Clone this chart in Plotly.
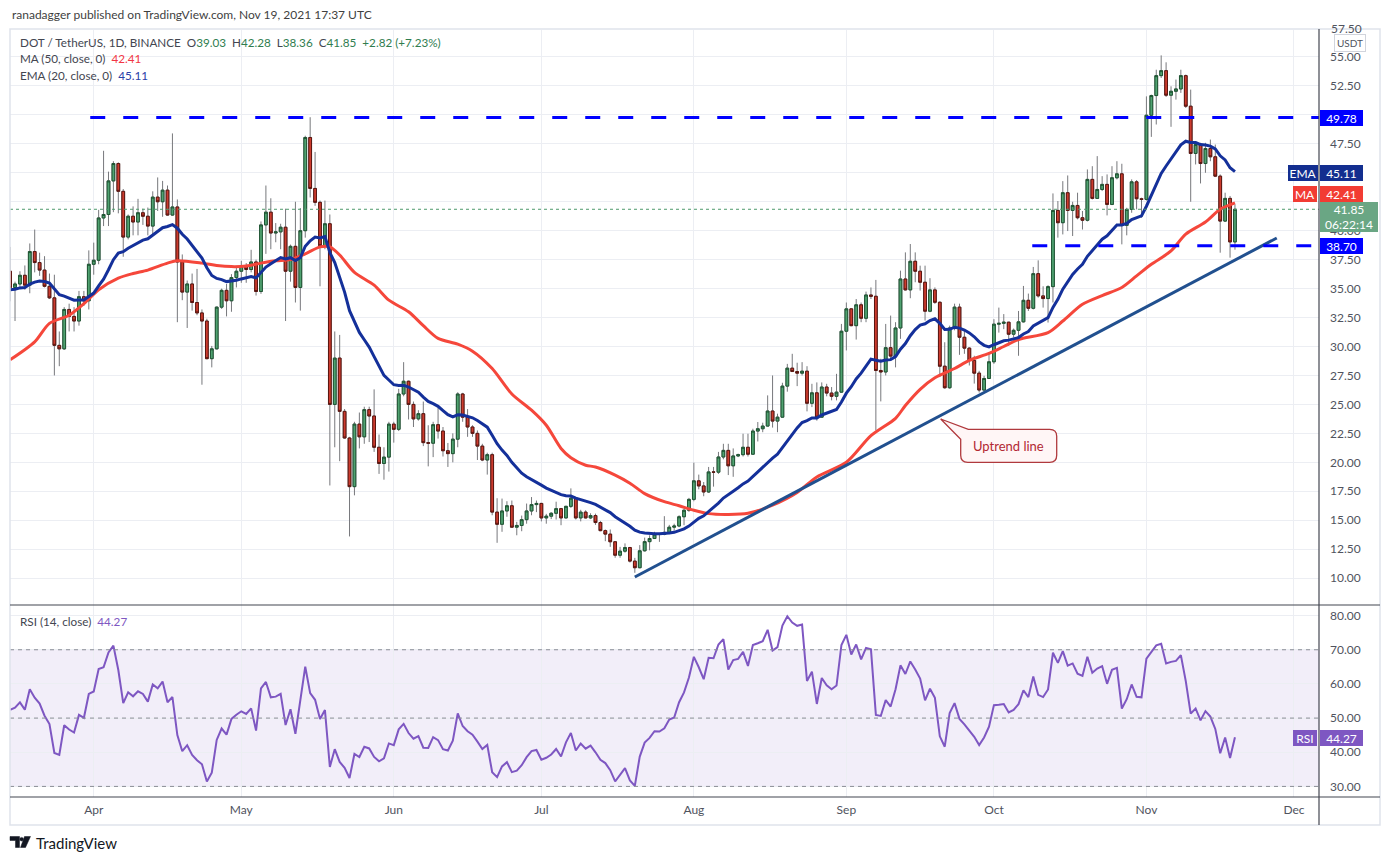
import numpy as np
import pandas as pd
import plotly.graph_objects as go
from plotly.subplots import make_subplots

# DOT/USDT daily candles, 2021-03-15 .. 2021-11-19
dates = pd.date_range("2021-03-15", periods=250, freq="D")

opens = [36.5, 35.1, 35.4, 36.15, 35.3, 38.2, 37.25, 36.6, 35.2, 34.2,
         30.1, 29.8, 33.2, 32.6, 32.2, 34.3, 33.95, 37.1, 37.45, 41.1,
         41.4, 44.3, 45.8, 43.4, 39.45, 41.25, 40.75, 41.55, 41.25, 40.4,
         42.9, 42.5, 43.5, 41.35, 42.05, 37.3, 34.7, 35.4, 33.8, 32.9,
         32.2, 28.95, 29.8, 33.4, 34.85, 33.95, 35.95, 36.5, 36.95, 36.65,
         37.3, 34.75, 40.5, 41.6, 39.8, 39.9, 40.3, 36.5, 38.65, 35.1,
         40.0, 48.05, 43.65, 42.45, 38.7, 40.6, 25.0, 29.0, 24.4, 22.1,
         17.9, 23.3, 22.2, 24.55, 24.0, 21.3, 19.9, 20.45, 23.3, 22.85,
         25.9, 27.0, 25.0, 23.75, 24.2, 21.7, 21.65, 23.25, 22.7, 21.0,
         20.75, 22.0, 25.9, 23.9, 23.05, 22.5, 21.4, 20.2, 20.66, 15.7,
         14.65, 15.8, 16.25, 14.4, 14.55, 15.05, 15.8, 16.35, 16.45, 15.2,
         15.35, 15.6, 16.0, 15.2, 16.2, 16.9, 15.2, 15.7, 15.2, 15.4,
         14.8, 14.1, 13.8, 13.14, 11.98, 12.33, 12.64, 11.47, 10.9, 12.36,
         13.15, 13.42, 13.8, 13.78, 13.95, 14.4, 14.5, 15.3, 15.86, 16.8,
         18.4, 17.96, 17.44, 19.17, 19.15, 20.46, 21.03, 19.7, 20.55, 20.66,
         21.3, 20.7, 22.7, 22.9, 23.13, 24.43, 23.56, 23.9, 26.58, 28.13,
         27.84, 27.7, 27.87, 25.1, 26.0, 23.9, 26.5, 25.98, 25.7, 26.06,
         31.32, 33.25, 31.8, 33.6, 32.44, 34.45, 34.34, 27.93, 27.8, 29.9,
         29.17, 31.6, 35.83, 34.89, 37.36, 36.5, 35.55, 33.05, 34.89, 33.82,
         28.3, 26.44, 31.6, 33.4, 30.8, 29.86, 28.8, 27.7, 26.24, 27.24,
         28.68, 31.93, 32.0, 32.1, 31.06, 31.4, 32.13, 33.99, 33.3, 36.29,
         34.37, 34.14, 35.17, 41.75, 40.69, 43.28, 41.75, 42.18, 41.12, 40.9,
         44.43, 42.79, 43.56, 44.0, 42.27, 44.57, 44.91, 40.46, 41.84, 44.22,
         42.76, 42.7, 49.97, 51.67, 53.39, 53.82, 51.7, 52.04, 52.24, 53.39,
         50.75, 46.67, 47.44, 45.8, 47.1, 46.38, 44.71, 40.83, 42.79, 39.03]

highs = [38.6, 35.6, 36.5, 37.0, 38.9, 40.1, 38.1, 37.8, 36.3, 36.2,
         31.3, 33.4, 33.7, 33.4, 34.8, 34.8, 38.3, 38.97, 41.8, 46.9,
         45.1, 46.0, 45.9, 43.6, 41.4, 42.1, 42.75, 41.9, 42.0, 43.4,
         44.6, 44.3, 43.9, 48.4, 42.7, 37.95, 35.7, 36.3, 36.7, 33.2,
         32.4, 30.05, 33.45, 35.0, 35.4, 36.25, 36.8, 37.4, 37.2, 38.35,
         37.5, 40.8, 43.9, 42.8, 40.66, 40.6, 41.9, 38.8, 42.5, 41.95,
         48.2, 49.8, 46.8, 42.6, 42.6, 41.4, 31.3, 31.0, 24.6, 22.2,
         23.5, 24.3, 24.8, 24.8, 26.3, 22.4, 21.3, 23.5, 23.5, 26.35,
         28.65, 27.06, 25.25, 24.5, 25.25, 23.2, 23.5, 24.7, 23.05, 21.67,
         22.5, 26.05, 26.0, 24.6, 23.2, 22.75, 21.6, 20.83, 20.83, 16.9,
         16.87, 16.64, 16.7, 14.86, 15.4, 16.44, 17.0, 16.7, 16.5, 15.55,
         15.7, 16.6, 16.06, 16.25, 17.75, 16.94, 15.9, 15.86, 15.6, 15.57,
         14.94, 14.2, 14.2, 13.2, 12.7, 13.0, 12.7, 11.75, 12.85, 13.5,
         13.7, 14.0, 13.85, 15.35, 14.6, 14.7, 15.43, 16.0, 16.93, 19.97,
         18.94, 18.3, 19.6, 19.6, 20.9, 21.6, 21.6, 21.2, 20.75, 22.47,
         22.47, 22.9, 23.48, 23.42, 25.78, 27.5, 24.2, 26.87, 28.5, 29.37,
         28.6, 28.65, 28.3, 26.78, 26.9, 26.9, 26.78, 26.5, 27.64, 31.95,
         33.8, 33.3, 34.1, 33.8, 34.74, 35.1, 35.75, 28.94, 31.95, 32.67,
         32.1, 36.55, 38.13, 38.85, 38.13, 36.98, 36.98, 35.9, 35.1, 33.9,
         30.37, 31.8, 33.7, 33.7, 31.5, 29.94, 29.2, 27.9, 27.47, 29.48,
         32.36, 33.36, 32.8, 32.13, 31.55, 33.07, 35.23, 34.57, 36.87, 37.44,
         35.2, 35.29, 43.22, 42.56, 44.28, 44.77, 42.5, 43.28, 41.7, 45.29,
         45.57, 46.44, 44.71, 44.86, 45.57, 46.0, 45.78, 41.98, 44.43, 44.37,
         42.85, 51.6, 51.75, 53.9, 55.14, 54.54, 52.47, 53.05, 53.9, 53.48,
         52.18, 47.73, 47.59, 47.59, 47.87, 47.44, 44.86, 43.28, 43.0, 42.28]

lows = [33.9, 32.2, 35.1, 34.9, 34.6, 36.4, 36.1, 35.1, 34.1, 27.5,
        28.3, 29.7, 31.3, 31.3, 31.8, 33.5, 33.2, 36.2, 37.1, 40.4,
        40.4, 41.6, 41.5, 37.75, 39.25, 39.6, 39.6, 40.5, 39.6, 39.6,
        41.7, 41.2, 41.3, 41.3, 32.1, 34.0, 31.6, 33.1, 32.7, 26.7,
        28.9, 28.2, 29.75, 33.25, 32.6, 33.0, 35.1, 35.5, 35.5, 36.4,
        34.4, 34.55, 38.0, 38.4, 39.0, 38.4, 32.2, 35.6, 33.8, 33.1,
        39.4, 42.87, 42.15, 35.2, 38.4, 18.0, 21.3, 20.1, 22.05, 13.6,
        17.15, 21.2, 21.6, 21.75, 20.9, 19.0, 18.5, 19.2, 21.7, 22.7,
        25.7, 23.7, 23.05, 23.6, 21.4, 19.65, 20.45, 22.05, 20.5, 19.6,
        20.0, 21.3, 23.5, 22.2, 22.2, 20.2, 20.1, 18.94, 15.43, 13.05,
        14.0, 15.3, 14.35, 13.7, 14.05, 14.7, 15.43, 15.7, 14.9, 14.7,
        15.1, 15.06, 14.57, 15.15, 16.06, 15.06, 14.9, 15.15, 15.1, 14.6,
        14.05, 13.19, 12.7, 11.76, 11.76, 12.2, 11.35, 10.46, 10.85, 12.3,
        12.4, 13.4, 13.13, 13.7, 13.8, 14.1, 14.4, 14.57, 15.72, 16.64,
        17.67, 17.07, 17.36, 17.9, 19.0, 20.26, 18.9, 18.75, 20.45, 20.5,
        20.5, 20.66, 21.8, 22.6, 23.1, 23.0, 22.6, 23.85, 26.1, 27.8,
        26.58, 27.5, 24.4, 24.77, 23.6, 23.85, 25.7, 25.35, 25.35, 26.0,
        29.66, 31.75, 30.6, 32.1, 32.1, 34.1, 22.76, 25.26, 27.5, 28.94,
        28.2, 30.66, 34.83, 34.17, 35.55, 34.83, 32.24, 32.96, 33.68, 27.36,
        26.35, 26.35, 31.4, 29.28, 29.37, 28.36, 26.8, 26.03, 26.1, 27.2,
        28.5, 31.2, 31.5, 30.05, 30.78, 29.2, 32.07, 33.07, 33.2, 34.22,
        33.36, 32.07, 33.8, 39.4, 39.68, 39.97, 39.54, 40.98, 40.1, 40.8,
        42.7, 42.75, 43.42, 41.32, 42.21, 44.43, 38.82, 39.6, 41.55, 41.84,
        41.12, 42.6, 48.1, 49.17, 53.19, 51.55, 48.97, 51.32, 51.9, 50.6,
        42.5, 45.72, 44.08, 45.0, 46.0, 44.63, 38.1, 40.75, 37.67, 38.36]

closes = [35.1, 35.4, 36.15, 35.3, 38.2, 37.25, 36.6, 35.2, 34.2, 30.1,
          29.8, 33.2, 32.6, 32.2, 34.3, 33.95, 37.1, 37.45, 41.1, 41.4,
          44.3, 45.8, 43.4, 39.45, 41.25, 40.75, 41.55, 41.25, 40.4, 42.9,
          42.5, 43.5, 41.35, 42.05, 37.3, 34.7, 35.4, 33.8, 32.9, 32.2,
          28.95, 29.8, 33.4, 34.85, 33.95, 35.95, 36.5, 36.95, 36.65, 37.3,
          34.75, 40.5, 41.6, 39.8, 39.9, 40.3, 36.5, 38.65, 35.1, 40.0,
          48.05, 43.65, 42.45, 38.7, 40.6, 25.0, 29.0, 24.4, 22.1, 17.9,
          23.3, 22.2, 24.55, 24.0, 21.3, 19.9, 20.45, 23.3, 22.85, 25.9,
          27.0, 25.0, 23.75, 24.2, 21.7, 21.65, 23.25, 22.7, 21.0, 20.75,
          22.0, 25.9, 23.9, 23.05, 22.5, 21.4, 20.2, 20.66, 15.7, 14.65,
          15.8, 16.25, 14.4, 14.55, 15.05, 15.8, 16.35, 16.45, 15.2, 15.35,
          15.6, 16.0, 15.2, 16.2, 16.9, 15.2, 15.7, 15.2, 15.4, 14.8,
          14.1, 13.8, 13.14, 11.98, 12.33, 12.64, 11.47, 10.9, 12.36, 13.15,
          13.42, 13.8, 13.78, 13.95, 14.4, 14.5, 15.3, 15.86, 16.8, 18.4,
          17.96, 17.44, 19.17, 19.15, 20.46, 21.03, 19.7, 20.55, 20.66, 21.3,
          20.7, 22.7, 22.9, 23.13, 24.43, 23.56, 23.9, 26.58, 28.13, 27.84,
          27.7, 27.87, 25.1, 26.0, 23.9, 26.5, 25.98, 25.7, 26.06, 31.32,
          33.25, 31.8, 33.6, 32.44, 34.45, 34.34, 27.93, 27.8, 29.9, 29.17,
          31.6, 35.83, 34.89, 37.36, 36.5, 35.55, 33.05, 34.89, 33.82, 28.3,
          26.44, 31.6, 33.4, 30.8, 29.86, 28.8, 27.7, 26.24, 27.24, 28.68,
          31.93, 32.0, 32.1, 31.06, 31.4, 32.13, 33.99, 33.3, 36.29, 34.37,
          34.14, 35.17, 41.75, 40.69, 43.28, 41.75, 42.18, 41.12, 40.9, 44.43,
          42.79, 43.56, 44.0, 42.27, 44.57, 44.91, 40.46, 41.84, 44.22, 42.76,
          42.7, 49.97, 51.67, 53.39, 53.82, 51.7, 52.04, 52.24, 53.39, 50.75,
          46.67, 47.44, 45.8, 47.1, 46.38, 44.71, 40.83, 42.79, 39.03, 41.85]

# MA(50) (day index from the first candle)
ma50_day = [0, 5, 8, 12, 15, 18, 22, 25, 28, 32, 34, 39, 42, 45, 48, 51, 54, 57, 60, 63,
            65, 67, 70, 74, 77, 81, 84, 87, 91, 94, 98, 102, 106, 109, 112, 114, 117, 119, 123, 126,
            129, 133, 136, 139, 142, 146, 150, 155, 160, 164, 170, 175, 180, 182, 185, 188, 192, 195, 199, 202,
            205, 211, 214, 218, 222, 226, 229, 232, 236, 239, 243, 246, 249]
ma50_val = [28.85, 30.4, 32.0, 32.7, 33.7, 34.9, 35.9, 36.3, 36.6, 37.2, 37.4, 37.2, 37.0, 36.9, 36.95, 37.2, 37.4, 37.5, 38.0, 38.6,
            38.6, 37.9, 36.4, 35.3, 34.0, 33.0, 31.8, 30.7, 30.2, 29.6, 28.1, 25.9, 24.5, 23.2, 21.2, 20.4, 19.75, 19.6, 18.9, 18.2,
            17.3, 16.6, 16.25, 15.86, 15.57, 15.5, 15.6, 16.3, 17.4, 18.74, 20.0, 22.3, 23.8, 24.9, 26.3, 27.3, 28.1, 28.8, 29.4, 30.0,
            30.6, 31.2, 32.2, 33.65, 34.4, 35.1, 36.1, 37.1, 38.25, 39.7, 40.75, 41.85, 42.41]

ema_seed = 34.88            # EMA(20) level just before the first candle
rsi_seed = (1.0, 0.8)       # Wilder avg gain / avg loss before the first candle

levels = [49.78, 38.70]
level_start = ["2021-03-31 07:00", "2021-10-08 19:00"]
trend_x = ["2021-07-20", "2021-11-27 12:00"]
trend_y = [10.1, 39.37]

price_ticks = [10 + 2.5 * k for k in range(19)]
hidden_ticks = [42.5, 45.0, 50.0]   # covered by the price tags on the chart
rsi_ticks = [30, 40, 50, 60, 70, 80]

# indicators
alpha = 2 / 21
ema, e = [], ema_seed
for c in closes:
    e = alpha * c + (1 - alpha) * e
    ema.append(e)

g, l = rsi_seed
prev = opens[0]
rsi = []
for c in closes:
    d = c - prev
    g = (g * 13 + max(d, 0)) / 14
    l = (l * 13 + max(-d, 0)) / 14
    rsi.append(100 * g / (g + l))
    prev = c

# pixel helpers (reference pixels -> paper coords)
L_PX, R_PX, T_PX, B_PX = 10, 1319, 30, 797
def px(x):
    return (x - L_PX) / (R_PX - L_PX)
def py(y):
    return (B_PX - y) / (B_PX - T_PX)

FONT = "Lato"
GRID = "#ECEEF3"
TXT = "#50535E"
UP, UP_EDGE = "#50A271", "#1F5533"
DN, DN_EDGE = "#CC3B2E", "#5A1610"
WICK = "#77787C"

fig = make_subplots(rows=2, cols=1, shared_xaxes=True, vertical_spacing=0,
                    row_heights=[575, 192])

fig.add_trace(go.Candlestick(
    x=dates, open=opens, high=highs, low=lows, close=closes,
    increasing=dict(line=dict(color=WICK, width=1), fillcolor=UP),
    decreasing=dict(line=dict(color=WICK, width=1), fillcolor=DN),
    whiskerwidth=0, hoverinfo="skip", showlegend=False), row=1, col=1)
fig.add_trace(go.Candlestick(
    x=dates, open=opens, close=closes,
    high=np.maximum(opens, closes), low=np.minimum(opens, closes),
    increasing=dict(line=dict(color=UP_EDGE, width=1), fillcolor=UP),
    decreasing=dict(line=dict(color=DN_EDGE, width=1), fillcolor=DN),
    whiskerwidth=0, hoverinfo="skip", showlegend=False), row=1, col=1)

fig.add_trace(go.Scatter(x=dates[ma50_day], y=ma50_val, mode="lines",
                         line=dict(color="#F5473B", width=3, shape="spline", smoothing=0.8),
                         hoverinfo="skip"), row=1, col=1)
fig.add_trace(go.Scatter(x=dates, y=ema, mode="lines",
                         line=dict(color="#14309A", width=3), hoverinfo="skip"), row=1, col=1)
fig.add_trace(go.Scatter(x=trend_x, y=trend_y, mode="lines",
                         line=dict(color="#21508F", width=3), hoverinfo="skip"), row=1, col=1)

fig.add_trace(go.Scatter(x=dates, y=rsi, mode="lines",
                         line=dict(color="#7E57C2", width=2), hoverinfo="skip"), row=2, col=1)

x_range = ["2021-03-14 23:30", "2021-12-06 02:00"]

for lvl, x0 in zip(levels, level_start):
    fig.add_shape(type="line", xref="x", yref="y", x0=x0, x1=x_range[1], y0=lvl, y1=lvl,
                  line=dict(color="#0000FF", width=3, dash="15px,18px"))
fig.add_shape(type="line", xref="x domain", yref="y", x0=0, x1=1, y0=closes[-1], y1=closes[-1],
              line=dict(color="#4E9A6C", width=1, dash="dot"))

# RSI band
fig.add_shape(type="rect", xref="x2 domain", yref="y2", x0=0, x1=1, y0=30, y1=70,
              fillcolor="rgba(126,87,194,0.1)", line_width=0, layer="below")
for v in (30, 50, 70):
    fig.add_shape(type="line", xref="x2 domain", yref="y2", x0=0, x1=1, y0=v, y1=v,
                  line=dict(color="#8A8D96", width=1, dash="4px,4px"))

# frame, pane separators, axis line
fig.add_shape(type="rect", xref="paper", yref="paper", x0=px(10), x1=px(1380), y0=py(825), y1=py(29),
              line=dict(color="#E0E3EB", width=1.5))
for yy in (605, 797):
    fig.add_shape(type="line", xref="paper", yref="paper", x0=px(10), x1=px(1380), y0=py(yy), y1=py(yy),
                  line=dict(color="#434651", width=1.2))
fig.add_shape(type="line", xref="paper", yref="paper", x0=px(1319), x1=px(1319), y0=py(825), y1=py(29),
              line=dict(color="#434651", width=1.2))

# "Uptrend line" callout
pts = [("M", 968.3, 429.3), ("L", 1049.7, 429.3), ("Q", 1056.7, 429.3, 1056.7, 436.3),
       ("L", 1056.7, 455.3), ("Q", 1056.7, 462.3, 1049.7, 462.3), ("L", 967.7, 462.3),
       ("Q", 960.7, 462.3, 960.7, 455.3), ("L", 960.7, 439.3), ("L", 940.7, 419.0)]
path = ""
for p in pts:
    cmd, coords = p[0], p[1:]
    path += cmd + " " + " ".join(f"{px(coords[k]):.5f},{py(coords[k + 1]):.5f}"
                                 for k in range(0, len(coords), 2)) + " "
path += "Z"
fig.add_shape(type="path", xref="paper", yref="paper", path=path,
              fillcolor="#FFF6F6", line=dict(color="#B0393D", width=1.3))
fig.add_annotation(x=px(1008.7), y=py(446), xref="paper", yref="paper", text="Uptrend line",
                   xanchor="center", yanchor="middle",
                   showarrow=False, font=dict(color="#B22833", size=13))

# TradingView logo
def P(x, y):
    return f"{px(x):.5f},{py(y):.5f}"
logo = [
    "M " + " L ".join([P(10, 836.5), P(19.5, 836.5), P(19.5, 847.5), P(15.5, 847.5),
                       P(15.5, 840.5), P(10, 840.5)]) + " Z",
    "M " + " L ".join([P(24.5, 836.5), P(30.5, 836.5), P(25.5, 847.5), P(20.5, 847.5)]) + " Z",
]
for pth in logo:
    fig.add_shape(type="path", xref="paper", yref="paper", path=pth,
                  fillcolor="#131722", line=dict(color="#131722", width=0.5))
fig.add_shape(type="circle", xref="paper", yref="paper", x0=px(19.8), x1=px(23.4),
              y0=py(841.0), y1=py(837.4), fillcolor="#131722", line=dict(color="#131722", width=0.5))
fig.add_annotation(x=px(34), y=py(843), xref="paper", yref="paper", xanchor="left",
                   yanchor="middle", text="TradingView", showarrow=False,
                   font=dict(color="#131722", size=15))

# header + legends
def note(x, y, text, size=12, color=TXT):
    fig.add_annotation(x=px(x), y=py(y), xref="paper", yref="paper", xanchor="left",
                       yanchor="middle", text=text, showarrow=False,
                       font=dict(size=size, color=color))

G = "#2F7D4F"
def gs(t):
    return f"<span style='color:{G}'>{t}</span>"
sp = "\u00a0\u00a0"
note(10, 14, "ranadagger published on TradingView.com, Nov 19, 2021 17:37 UTC", color="#3F3F3F")
note(18, 42, "DOT / TetherUS, 1D, BINANCE" + sp + "O" + gs("39.03") + sp + "H" + gs("42.28") + sp +
     "L" + gs("38.36") + sp + "C" + gs("41.85") + sp + gs("+2.82 (+7.23%)"), size=11.7, color="#434651")
note(18, 58, "MA (50, close, 0)" + sp + "<span style='color:#F23645'>42.41</span>", size=11.7, color="#434651")
note(18, 75, "EMA (20, close, 0)" + sp + "<span style='color:#2940A8'>45.11</span>", size=11.7, color="#434651")
note(18, 621, "RSI (14, close)" + sp + "<span style='color:#7E57C2'>44.27</span>", size=11.7, color="#434651")
note(1329, 28, "57.50", size=12, color=TXT)

# right-axis tags
def tag(text, y, x0, w, bg, h=16):
    fig.add_annotation(x=px(x0), xref="paper", xanchor="left", y=py(y), yref="paper",
                       yanchor="middle", text=text, showarrow=False, bgcolor=bg,
                       width=w, height=h, borderpad=0, borderwidth=0, align="center",
                       font=dict(color="white", size=12))

tag("49.78", 118, 1319.5, 43, "#0000FF")
tag("EMA", 172.5, 1287.5, 30, "#132E8F")
tag("45.11", 172.5, 1319.5, 43, "#132E8F")
tag("MA", 194, 1293, 24, "#F23C33")
tag("42.41", 194, 1319.5, 43, "#F23C33")
tag("41.85<br>06:22:14", 217, 1319.5, 58, "#6AA684", h=30)
tag("38.70", 246, 1319.5, 43, "#0000FF")
tag("RSI", 738, 1293, 24, "#7E57C2")
tag("44.27", 738, 1319.5, 43, "#7E57C2")
fig.add_annotation(x=px(1349.5), y=py(42.5), xref="paper", yref="paper", text="USDT",
                   xanchor="center", yanchor="middle",
                   showarrow=False, bordercolor="#D1D4DC", borderwidth=1, borderpad=2,
                   font=dict(size=10, color=TXT))

fig.update_layout(
    width=1375, height=844, margin=dict(l=2, r=64, t=22, b=55),
    paper_bgcolor="white", plot_bgcolor="white", showlegend=False, boxgap=0.2,
    font=dict(family=FONT, size=12, color=TXT),
    xaxis_rangeslider_visible=False, xaxis2_rangeslider_visible=False,
)
fig.update_xaxes(range=x_range, showgrid=True, gridcolor=GRID, gridwidth=1, dtick="M1",
                 tick0="2021-01-01", tickformat="%b", zeroline=False, showline=False, ticks="",
                 tickfont=dict(size=12, color=TXT), ticklabelstandoff=4)
fig.update_yaxes(side="right", showgrid=True, gridcolor=GRID, zeroline=False, showline=False,
                 ticks="", ticklabelstandoff=10, tickfont=dict(size=12, color=TXT))
fig.update_yaxes(range=[7.68, 57.33], tickvals=price_ticks,
                 ticktext=["" if v in hidden_ticks else f"{v:.2f}" for v in price_ticks],
                 row=1, col=1)
fig.update_yaxes(range=[26.9, 83.1], tickvals=rsi_ticks,
                 ticktext=[f"{v:.2f}" for v in rsi_ticks], row=2, col=1)

fig.write_html("out.html")
